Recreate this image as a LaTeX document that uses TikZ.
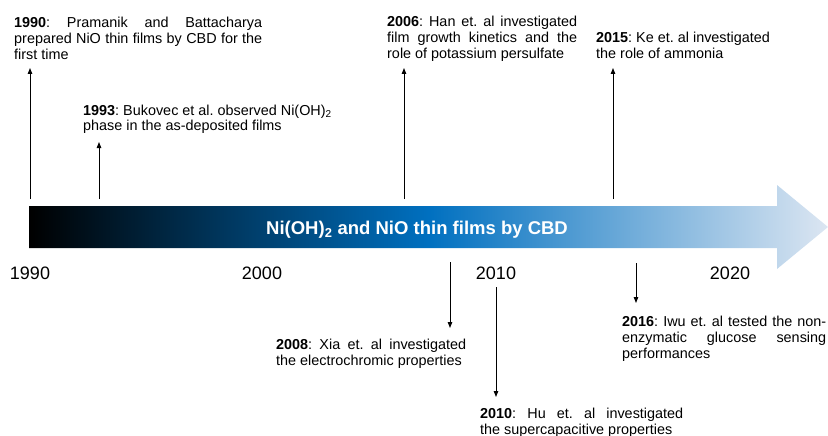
\documentclass[tikz,border=0pt]{standalone}
\usepackage{fontspec}
\setmainfont{Liberation Sans}
\usetikzlibrary{arrows.meta}
\definecolor{barmid}{RGB}{0,112,192}
\definecolor{barend}{RGB}{220,230,242}
\newcommand{\jline}[2]{\makebox[#1][s]{#2}}
\frenchspacing
\begin{document}
\begin{tikzpicture}[x=1pt,y=-1pt,
  evt/.style={anchor=base west, inner sep=0pt, font=\fontsize{14.4}{16}\selectfont},
  yr/.style={inner sep=0pt, anchor=base, font=\fontsize{18}{20}\selectfont},
  tl/.style={line width=1pt, -{Triangle[length=6pt,width=4.5pt]}}]
\useasboundingbox (0,0) rectangle (828,436);
% timeline arrow
\shade[left color=black, right color=barend, middle color=barmid]
  (29,206) -- (777,206) -- (777,185) -- (828,227) -- (777,269) -- (777,248) -- (29,248) -- cycle;
\node (bar) [anchor=base, inner sep=0pt, text=white, font=\bfseries\fontsize{18.5}{20}\selectfont]
  at (417,234.5) {Ni(OH)\textsubscript{2} and NiO thin films by CBD};
% years
\node (y1990) [yr] at (30,279) {1990};
\node (y2000) [yr] at (262,279) {2000};
\node (y2010) [yr] at (496,279) {2010};
\node (y2020) [yr] at (730,279) {2020};
% event texts
\node (t1990) [evt] at (14,28) {\parbox[t]{248pt}{\jline{248pt}{\textbf{1990}: Pramanik and Battacharya}\\
  \jline{248pt}{prepared NiO thin films by CBD for the}\\first time}};
\node (t1993) [evt] at (83,115) {\parbox[t]{260pt}{\textbf{1993}: Bukovec et al. observed Ni(OH)\textsubscript{2}\\phase in the as-deposited films}};
\node (t2006) [evt] at (387,27) {\parbox[t]{190pt}{\jline{190pt}{\textbf{2006}: Han et. al investigated}\\
  \jline{190pt}{film growth kinetics and the}\\role of potassium persulfate}};
\node (t2015) [evt] at (596,43) {\parbox[t]{200pt}{\textbf{2015}: Ke et. al investigated\\the role of ammonia}};
\node (t2008) [evt] at (276,349) {\parbox[t]{190pt}{\jline{190pt}{\textbf{2008}: Xia et. al investigated}\\the electrochromic properties}};
\node (t2010) [evt] at (480,418) {\parbox[t]{203pt}{\jline{203pt}{\textbf{2010}: Hu et. al investigated}\\the supercapacitive properties}};
\node (t2016) [evt] at (622,326) {\parbox[t]{204pt}{\jline{204pt}{\textbf{2016}: Iwu et. al tested the non-}\\
  \jline{204pt}{enzymatic glucose sensing}\\performances}};
% arrow ends
\coordinate (s1990) at (30,199);  \coordinate (e1990) at (30,68);
\coordinate (s1993) at (99,199);  \coordinate (e1993) at (99,142);
\coordinate (s2006) at (404,199); \coordinate (e2006) at (404,68);
\coordinate (s2015) at (613,199); \coordinate (e2015) at (613,68);
\coordinate (s2008) at (450,262); \coordinate (e2008) at (450,328);
\coordinate (s2010) at (496,287); \coordinate (e2010) at (496,397);
\coordinate (s2016) at (636,263); \coordinate (e2016) at (636,303);
\draw[tl] (s1990) -- (e1990);
\draw[tl] (s1993) -- (e1993);
\draw[tl] (s2006) -- (e2006);
\draw[tl] (s2015) -- (e2015);
\draw[tl] (s2008) -- (e2008);
\draw[tl] (s2010) -- (e2010);
\draw[tl] (s2016) -- (e2016);
\end{tikzpicture}
\end{document}
